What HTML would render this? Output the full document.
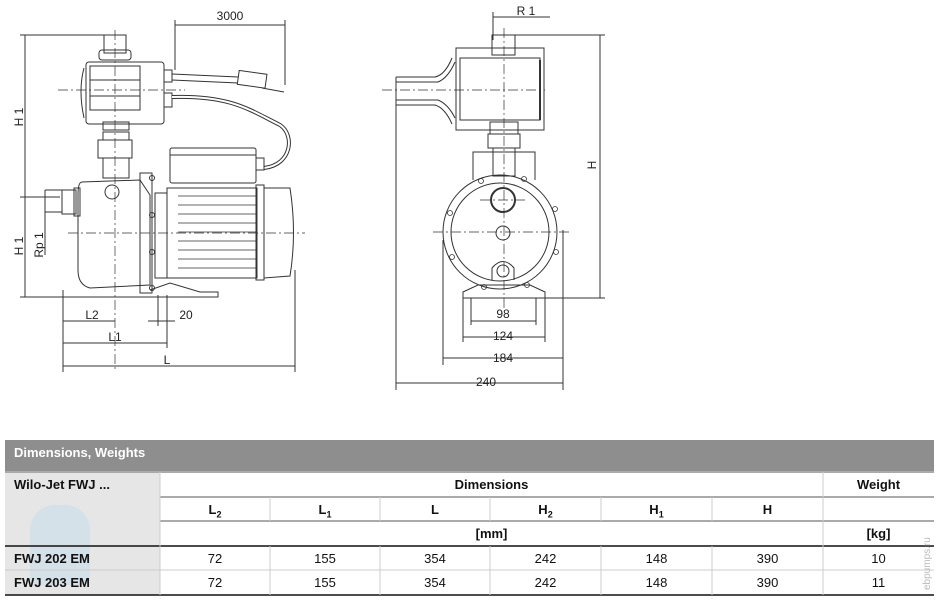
<!DOCTYPE html>
<html><head><meta charset="utf-8"><style>
body{margin:0;width:943px;height:610px;background:#fff;position:relative;overflow:hidden;font-family:"Liberation Sans",sans-serif}
svg{position:absolute;left:0;top:0}
.t{position:absolute;font-family:"Liberation Sans",sans-serif;font-size:13px;color:#111;text-align:center}
.b{font-weight:bold}
</style></head><body>
<svg width="943" height="430" viewBox="0 0 943 430" stroke="#333" fill="none" stroke-width="1">
<!-- SIDE VIEW -->
<g>
<!-- dims left -->
<line x1="25" y1="35" x2="25" y2="297"/><line x1="20" y1="35" x2="105" y2="35"/>
<line x1="20" y1="197" x2="60" y2="197"/><line x1="20" y1="297" x2="150" y2="297"/>
<line x1="45" y1="190" x2="62" y2="190"/><line x1="45" y1="212" x2="62" y2="212"/><line x1="45" y1="190" x2="45" y2="255"/>
<!-- top pipe -->
<rect x="104" y="35" width="22" height="18"/>
<rect x="99" y="50" width="32" height="10" rx="3"/>
<!-- controller -->
<path d="M84 68 Q78 90 84 118" /><rect x="86" y="62" width="78" height="62" rx="3"/>
<rect x="90" y="66" width="50" height="44"/><line x1="90" y1="80" x2="140" y2="80"/><line x1="90" y1="96" x2="140" y2="96"/>
<rect x="103" y="122" width="26" height="8"/>
<rect x="164" y="70" width="8" height="12"/><rect x="164" y="93" width="8" height="14"/>
<!-- plug cable -->
<line x1="172" y1="74" x2="238" y2="77"/><line x1="172" y1="80" x2="238" y2="83"/>
<rect x="238" y="72" width="28" height="14" transform="rotate(8 250 80)"/><line x1="262" y1="88" x2="284" y2="92"/>
<!-- dim 3000 -->
<line x1="175" y1="25" x2="285" y2="25"/><line x1="175" y1="20" x2="175" y2="70"/><line x1="285" y1="20" x2="285" y2="85"/>
<!-- cable to motor -->
<path d="M172 97 C230 95 250 110 280 125 C295 135 292 165 264 168" stroke-width="4"/>
<path d="M172 97 C230 95 250 110 280 125 C295 135 292 165 264 168" stroke="#fff" stroke-width="2"/>
<!-- fittings -->
<rect x="103" y="132" width="26" height="8"/><rect x="98" y="140" width="34" height="18"/><rect x="103" y="158" width="26" height="20"/>
<!-- pump body -->
<path d="M82 182 L140 180 L150 195 L150 285 L90 288 Q78 285 78 270 L78 195 Q78 182 82 182Z"/>
<rect x="62" y="190" width="14" height="24"/><rect x="74" y="188" width="6" height="28"/>
<circle cx="112" cy="192" r="7"/>
<rect x="140" y="173" width="12" height="120"/>
<circle cx="152" cy="178" r="2.5"/><circle cx="152" cy="215" r="2.5"/><circle cx="152" cy="252" r="2.5"/><circle cx="152" cy="288" r="2.5"/>
<rect x="155" y="193" width="12" height="85"/>
<!-- terminal box -->
<rect x="170" y="148" width="86" height="35" rx="2"/><line x1="170" y1="155" x2="256" y2="155"/>
<rect x="256" y="158" width="8" height="12"/>
<!-- motor -->
<rect x="167" y="188" width="90" height="90"/>
<g stroke-width="0.8"><line x1="178" y1="196" x2="256" y2="196"/><line x1="178" y1="205" x2="256" y2="205"/><line x1="178" y1="214" x2="256" y2="214"/><line x1="178" y1="223" x2="256" y2="223"/><line x1="178" y1="232" x2="256" y2="232"/><line x1="178" y1="241" x2="256" y2="241"/><line x1="178" y1="250" x2="256" y2="250"/><line x1="178" y1="259" x2="256" y2="259"/><line x1="178" y1="268" x2="256" y2="268"/></g>
<rect x="256" y="185" width="8" height="95"/>
<path d="M264 188 L290 188 Q297 233 290 276 L264 278Z"/>
<!-- base -->
<path d="M150 290 L170 283 L200 292 L218 292 L218 297 L150 297"/>
<!-- centerlines -->
<g stroke-dasharray="10 3 2 3" stroke-width="0.7"><line x1="115" y1="30" x2="115" y2="370"/><line x1="58" y1="90" x2="185" y2="90"/><line x1="68" y1="233" x2="305" y2="233"/></g>
<!-- bottom dims -->
<line x1="63" y1="290" x2="63" y2="372"/><line x1="167" y1="295" x2="167" y2="348"/><line x1="158" y1="295" x2="158" y2="326"/><line x1="295" y1="270" x2="295" y2="372"/>
<line x1="63" y1="321" x2="115" y2="321"/><line x1="148" y1="321" x2="175" y2="321"/><line x1="63" y1="343" x2="167" y2="343"/><line x1="63" y1="366" x2="295" y2="366"/>
</g>
<!-- FRONT VIEW -->
<g>
<line x1="493" y1="17" x2="550" y2="17"/><line x1="493" y1="12" x2="493" y2="40"/>
<line x1="515" y1="35" x2="605" y2="35"/><line x1="510" y1="298" x2="605" y2="298"/><line x1="600" y1="35" x2="600" y2="298"/>
<rect x="492" y="35" width="23" height="20"/>
<rect x="456" y="48" width="88" height="82"/><rect x="460" y="58" width="80" height="62"/><line x1="540" y1="60" x2="540" y2="120" stroke-width="2"/>
<path d="M396 77 L435 77 Q445 75 452 58"/><path d="M396 82 L438 82 Q448 78 455 62"/><path d="M396 100 L438 100 Q448 104 455 118"/><path d="M396 105 L435 105 Q445 108 452 124"/>
<rect x="490" y="122" width="28" height="12"/><rect x="488" y="134" width="32" height="14"/>
<path d="M473 180 L473 152 L535 152 L535 180"/><rect x="493" y="148" width="22" height="28"/>
<circle cx="500" cy="232" r="57"/><circle cx="500" cy="232" r="49"/>
<circle cx="503" cy="200" r="12" stroke-width="2"/><circle cx="503" cy="233" r="7"/><circle cx="503" cy="271" r="6"/>
<path d="M492 280 L492 268 Q503 255 514 268 L514 280"/>
<g stroke-width="0.8"><circle cx="481" cy="181" r="2.5"/><circle cx="524" cy="179" r="2.5"/><circle cx="450" cy="213" r="2.5"/><circle cx="555" cy="209" r="2.5"/><circle cx="452" cy="257" r="2.5"/><circle cx="556" cy="252" r="2.5"/><circle cx="484" cy="287" r="2.5"/><circle cx="527" cy="285" r="2.5"/></g>
<path d="M463 298 L463 292 L478 285 L530 285 L545 292 L545 298Z"/>
<g stroke-dasharray="10 3 2 3" stroke-width="0.7"><line x1="504" y1="28" x2="504" y2="310"/><line x1="382" y1="90" x2="545" y2="90"/><line x1="433" y1="232" x2="570" y2="232"/><line x1="480" y1="200" x2="525" y2="200"/></g>
<line x1="396" y1="77" x2="396" y2="390"/><line x1="443" y1="240" x2="443" y2="365"/><line x1="563" y1="230" x2="563" y2="390"/><line x1="463" y1="298" x2="463" y2="342"/><line x1="545" y1="298" x2="545" y2="342"/><line x1="471" y1="298" x2="471" y2="325"/><line x1="536" y1="298" x2="536" y2="325"/>
<line x1="471" y1="321" x2="536" y2="321"/><line x1="463" y1="337" x2="545" y2="337"/><line x1="443" y1="358" x2="563" y2="358"/><line x1="396" y1="383" x2="563" y2="383"/>
</g>
<g fill="#222" stroke="none" font-family="Liberation Sans, sans-serif" font-size="12" text-anchor="middle">
<text x="230" y="20">3000</text>
<text x="92" y="319">L2</text><text x="186" y="319">20</text><text x="115" y="341">L1</text><text x="167" y="364">L</text>
<text transform="translate(23,117) rotate(-90)">H 1</text>
<text transform="translate(23,246) rotate(-90)">H 1</text>
<text transform="translate(43,245) rotate(-90)">Rp 1</text>
<text x="526" y="15">R 1</text>
<text transform="translate(596,165) rotate(-90)">H</text>
<text x="503" y="318">98</text><text x="503" y="340">124</text><text x="503" y="362">184</text><text x="486" y="386">240</text>
</g>
</svg>

<!-- TABLE -->
<div style="position:absolute;left:5px;top:440px;width:929px;height:32px;background:#8e8e8e"></div>
<div class="t b" style="left:14px;top:445px;color:#fff;text-align:left">Dimensions, Weights</div>
<div style="position:absolute;left:5px;top:472px;width:155px;height:123px;background:#e6e6e6"></div>
<div style="position:absolute;left:30px;top:505px;width:60px;height:80px;background:#cfe0ea;border-radius:25px 25px 8px 8px;opacity:.8"></div>
<svg width="943" height="610" style="position:absolute;left:0;top:0" stroke-width="1">
<g stroke="#aaa" stroke-width="2"><line x1="5" y1="472" x2="934" y2="472"/><line x1="160" y1="497" x2="934" y2="497"/><line x1="160" y1="521" x2="934" y2="521"/></g>
<g stroke="#111" stroke-width="1.5"><line x1="5" y1="546" x2="934" y2="546"/><line x1="5" y1="595" x2="934" y2="595"/></g>
<line x1="5" y1="570" x2="934" y2="570" stroke="#ccc"/>
<g stroke="#ccc"><line x1="160" y1="472" x2="160" y2="595"/><line x1="823" y1="472" x2="823" y2="595"/>
<line x1="270" y1="497" x2="270" y2="521"/><line x1="380" y1="497" x2="380" y2="521"/><line x1="490" y1="497" x2="490" y2="521"/><line x1="601" y1="497" x2="601" y2="521"/><line x1="712" y1="497" x2="712" y2="521"/>
<line x1="270" y1="546" x2="270" y2="595"/><line x1="380" y1="546" x2="380" y2="595"/><line x1="490" y1="546" x2="490" y2="595"/><line x1="601" y1="546" x2="601" y2="595"/><line x1="712" y1="546" x2="712" y2="595"/></g>
<g fill="#bbb" font-family="Liberation Sans, sans-serif" font-size="10"><text transform="translate(930,590) rotate(-90)">ebpumps.ru</text></g>
</svg>
<div class="t b" style="left:14px;top:477px;text-align:left">Wilo-Jet FWJ ...</div>
<div class="t b" style="left:160px;top:477px;width:663px">Dimensions</div>
<div class="t b" style="left:823px;top:477px;width:111px">Weight</div>
<div class="t b" style="left:160px;top:502px;width:110px">L<sub style="font-size:9px">2</sub></div>
<div class="t b" style="left:270px;top:502px;width:110px">L<sub style="font-size:9px">1</sub></div>
<div class="t b" style="left:380px;top:502px;width:110px">L</div>
<div class="t b" style="left:490px;top:502px;width:111px">H<sub style="font-size:9px">2</sub></div>
<div class="t b" style="left:601px;top:502px;width:111px">H<sub style="font-size:9px">1</sub></div>
<div class="t b" style="left:712px;top:502px;width:111px">H</div>
<div class="t b" style="left:160px;top:526px;width:663px">[mm]</div>
<div class="t b" style="left:823px;top:526px;width:111px">[kg]</div>
<div class="t b" style="left:14px;top:551px;text-align:left">FWJ 202 EM</div>
<div class="t b" style="left:14px;top:575px;text-align:left">FWJ 203 EM</div>
<div class="t" style="left:160px;top:551px;width:110px">72</div><div class="t" style="left:270px;top:551px;width:110px">155</div><div class="t" style="left:380px;top:551px;width:110px">354</div><div class="t" style="left:490px;top:551px;width:111px">242</div><div class="t" style="left:601px;top:551px;width:111px">148</div><div class="t" style="left:712px;top:551px;width:111px">390</div><div class="t" style="left:823px;top:551px;width:111px">10</div>
<div class="t" style="left:160px;top:575px;width:110px">72</div><div class="t" style="left:270px;top:575px;width:110px">155</div><div class="t" style="left:380px;top:575px;width:110px">354</div><div class="t" style="left:490px;top:575px;width:111px">242</div><div class="t" style="left:601px;top:575px;width:111px">148</div><div class="t" style="left:712px;top:575px;width:111px">390</div><div class="t" style="left:823px;top:575px;width:111px">11</div>
</body></html>
